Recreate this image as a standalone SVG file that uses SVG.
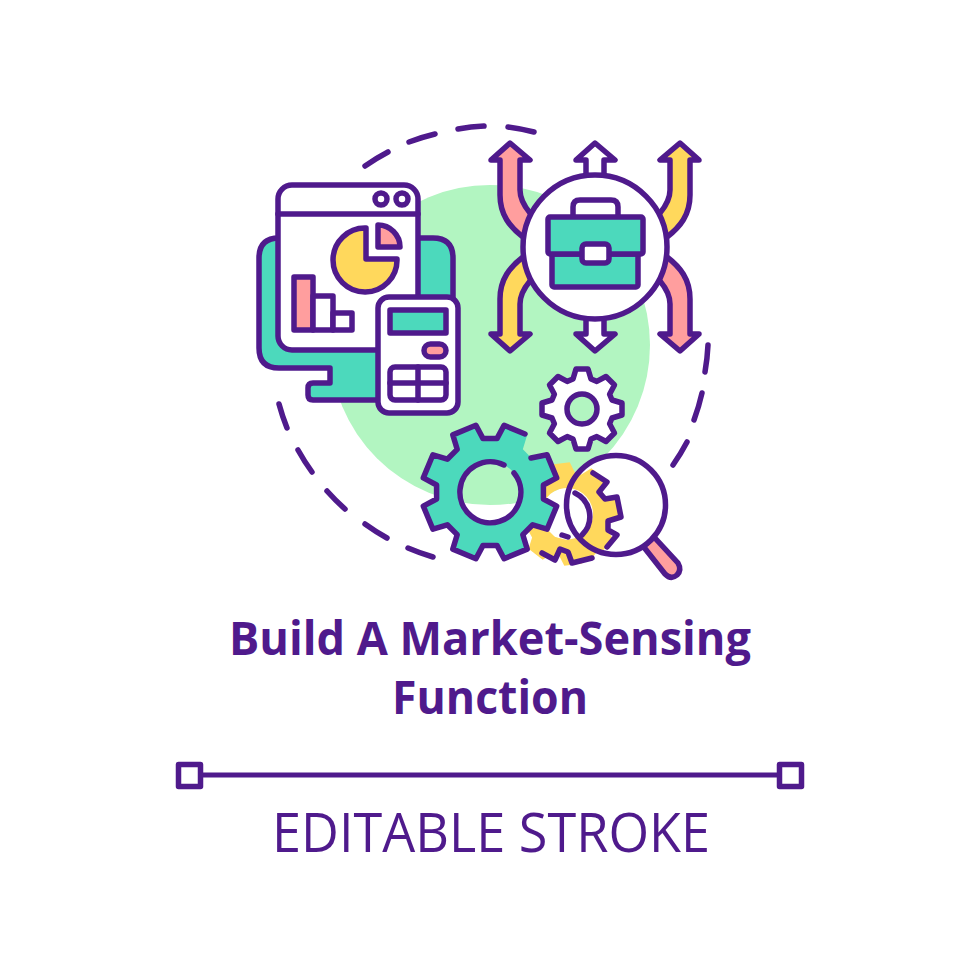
<svg xmlns="http://www.w3.org/2000/svg" width="980" height="980" viewBox="0 0 980 980">
<style>
.s{stroke:#4f1a8c;stroke-width:5.500;stroke-linejoin:round;stroke-linecap:round}
.n{fill:none}.w{fill:#fff}.t{fill:#4cd9bc}.y{fill:#ffd85c}.p{fill:#ff9e9e}
text{fill:#4f1a8c;font-family:"Open Sans","Liberation Sans",sans-serif;text-anchor:middle}
</style>
<defs>
<path id="curved" d="M523 237C510 227 500 215 500 195V160H491L510 143L530 160H520V190C520 200 525 207 530 213L560 240Z"/>
<path id="straight" d="M586 185V160H576L595 143L615 160H604V185Z"/>
</defs>
<rect width="980" height="980" fill="#fff"/>
<g id="background"><circle cx="490" cy="345" r="160" fill="#b2f5c1"/></g>
<g id="dashed-ring" class="s n" fill="none">
<path d="M365 166A218 218 0 0 1 388 152M409 142A218 218 0 0 1 435 134M458 129A218 218 0 0 1 484 126M508 127A218 218 0 0 1 534 132M708 345A218 218 0 0 1 705 372M702 393A218 218 0 0 1 694 420M687 442A218 218 0 0 1 673 465M433 557A218 218 0 0 1 408 548M387 538A218 218 0 0 1 365 524M345 509A218 218 0 0 1 327 491M312 472A218 218 0 0 1 298 450M287 428A218 218 0 0 1 279 404"/>
</g>
<g id="computer">
<path class="s t" d="M453 300V258Q453 238 433 238H279Q259 238 259 258V348Q259 368 279 368H330V383H313Q308 383 308 388V395Q308 400 313 400H380V300Z"/>
<rect class="s w" x="278" y="185" width="140" height="165" rx="14"/>
<path class="s n" d="M278 214H418"/>
<circle class="s w" cx="381" cy="199" r="6"/>
<circle class="s w" cx="402" cy="199" r="6"/>
<path class="s y" d="M366 228A32 32 0 1 0 397 259H366Z"/>
<path class="s p" d="M378 225V247H400A22 22 0 0 0 378 225Z"/>
<rect class="s p" x="294" y="277" width="19" height="53"/>
<rect class="s w" x="313" y="296" width="20" height="34"/>
<rect class="s w" x="333" y="313" width="19" height="17"/>
</g>
<g id="calculator">
<rect class="s w" x="378" y="297" width="80" height="116" rx="11"/>
<rect class="s t" x="390" y="310" width="56" height="23"/>
<rect class="s p" x="424" y="344" width="22" height="13" rx="6.500"/>
<rect class="s w" x="390" y="367" width="56" height="33" rx="5"/>
<path class="s n" d="M418 367V400M390 383H446"/>
</g>
<g id="arrows">
<use href="#curved" class="s p"/>
<use href="#curved" class="s y" transform="matrix(-1 0 0 1 1190 0)"/>
<use href="#curved" class="s y" transform="matrix(1 0 0 -1 0 494)"/>
<use href="#curved" class="s p" transform="matrix(-1 0 0 -1 1190 494)"/>
<use href="#straight" class="s w"/>
<use href="#straight" class="s w" transform="matrix(1 0 0 -1 0 494)"/>
</g>
<g id="briefcase">
<circle class="s w" cx="595" cy="247" r="72"/>
<path class="s n" d="M573 217V207Q573 200 580 200H611Q618 200 618 207V217"/>
<rect class="s t" x="552" y="254" width="86" height="33" rx="2"/>
<rect class="s t" x="548" y="217" width="95" height="37" rx="2"/>
<rect class="s w" x="582" y="244" width="27" height="19" rx="4"/>
</g>
<g id="small-gear">
<path class="s w" fill-rule="evenodd" transform="translate(582 409)" d="M-9-30L-6-40L6-40L9-30L14.800-27.600L24-32.500L32.500-24L27.600-14.800L30-9L40-6L40 6L30 9L27.600 14.800L32.500 24L24 32.500L14.800 27.600L9 30L6 40L-6 40L-9 30L-14.800 27.600L-24 32.500L-32.500 24L-27.600 14.800L-30 9L-40 6L-40-6L-30-9L-27.600-14.800L-32.500-24L-24-32.500L-14.800-27.600ZM15 0A15 15 0 1 0 -15 0A15 15 0 1 0 15 0Z"/>
</g>
<g id="magnifier">
<path class="s p" d="M643 546L654 537L678 563Q682 570 677 575Q671 580 665 574Z"/>
<circle cx="616" cy="505" r="49.500" fill="#fff"/>
<path class="y" fill-rule="evenodd" transform="translate(567 514) rotate(-7)" d="M-13-40L-9-51L9-51L13-40L19.100-37.500L29.700-42.400L42.400-29.700L37.500-19.100L40-13L51-9L51 9L40 13L37.500 19.100L42.400 29.700L29.700 42.400L19.100 37.500L13 40L9 51L-9 51L-13 40L-19.100 37.500L-29.700 42.400L-42.400 29.700L-37.500 19.100L-40 13L-51 9L-51-9L-40-13L-37.500-19.100L-42.400-29.700L-29.700-42.400L-19.100-37.500ZM26 0A26 26 0 1 0 -26 0A26 26 0 1 0 26 0Z"/>
<path class="y" d="M546 528L536 548L542 553L555 560L560 549L568 552L572 563L592 558L600 548L585 536L567 540L555 537Z"/>
<path class="s n" d="M593 473L607 482L599 492L605 499L617 497L621 517L608 521L608 530L617 535L607 547"/>
<path class="s n" d="M575 493A26 26 0 0 1 582 535"/>
<path class="s n" d="M542 553L555 560L560 549L568 552L572 563L592 558"/>
<path class="s n" d="M562 535L568 537"/>
<circle class="s n" cx="616" cy="505" r="49.500"/>
</g>
<g id="big-gear">
<g transform="translate(490 492)">
<path class="t" fill-rule="evenodd" d="M6.970-53.400L14.090-66.680L37.190-57.120L32.830-42.680L42.700-32.800L57.100-37.200L66.700-14.100L53.400-7L53.400 7L66.700 14.100L57.100 37.200L42.700 32.800L32.830 42.680L37.190 57.120L14.090 66.680L6.970 53.400L-6.970 53.400L-14.090 66.680L-37.190 57.120L-32.830 42.680L-42.700 32.800L-57.100 37.200L-66.700 14.100L-53.400 7L-53.400-7L-66.700-14.100L-57.100-37.200L-42.700-32.800L-32.830-42.680L-37.190-57.120L-14.090-66.680L-6.970-53.400ZM30.500 0A30.500 30.500 0 1 0 -30.500 0A30.500 30.500 0 1 0 30.500 0Z"/>
<path class="s n" d="M41-34L57.100-37.200L66.700-14.100L53.400-7L53.400 7L66.700 14.100L57.100 37.200L42.700 32.800L32.830 42.680L37.190 57.120L14.090 66.680L6.970 53.400L-6.970 53.400L-14.090 66.680L-37.190 57.120L-32.830 42.680L-42.700 32.800L-57.100 37.200L-66.700 14.100L-53.400 7L-53.400-7L-66.700-14.100L-57.100-37.200L-42.700-32.800L-32.830-42.680L-37.190-57.120L-14.090-66.680L-6.970-53.400L6.970-53.400L14.090-66.680L35-58"/>
<path class="s n" d="M24-19A30.500 30.500 0 1 1 14-27"/>
</g>
</g>
<g id="title">
<text x="490" y="655" font-size="47" font-weight="700" textLength="522" lengthAdjust="spacingAndGlyphs">Build A Market-Sensing</text>
<text x="490" y="714" font-size="47" font-weight="700" textLength="196" lengthAdjust="spacingAndGlyphs">Function</text>
</g>
<g id="stroke-bar">
<path d="M201 775H779" stroke="#4f1a8c" stroke-width="5" fill="none"/>
<rect class="s w" x="178.500" y="764.500" width="22" height="22"/>
<rect class="s w" x="779.500" y="764.500" width="22" height="22"/>
<text x="491" y="852" font-size="54" textLength="438" lengthAdjust="spacingAndGlyphs">EDITABLE STROKE</text>
</g>
</svg>
